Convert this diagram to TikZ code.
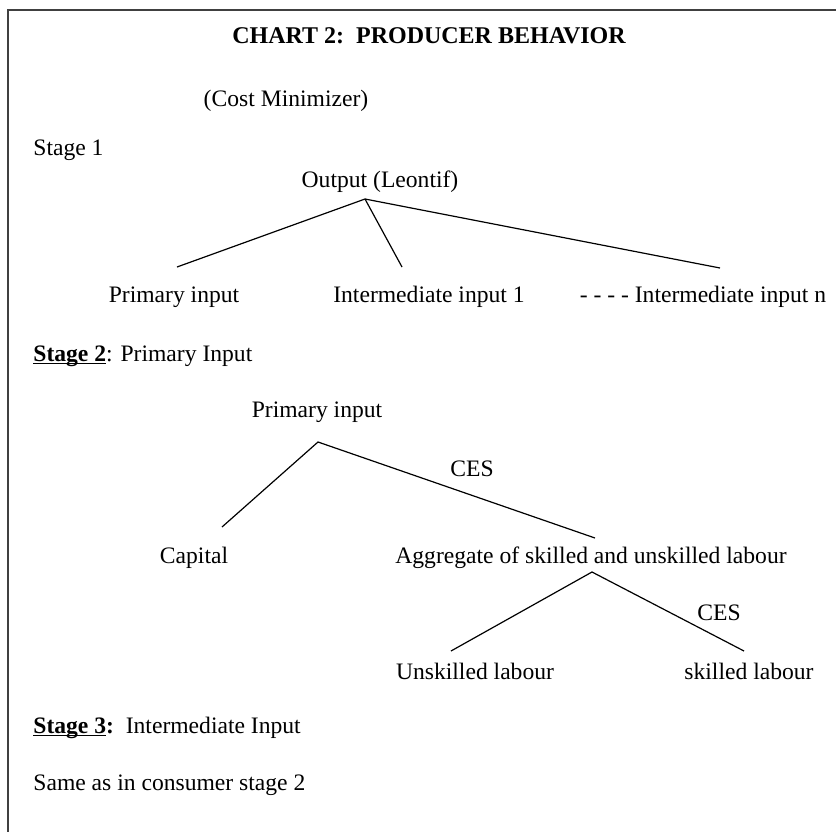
\documentclass[tikz,border=0pt]{standalone}
\usepackage{fontspec}
\setmainfont{Liberation Serif}
\usetikzlibrary{positioning}
\newcommand{\stageul}[1]{\vtop{\hbox{#1}\kern-1.6pt\hrule height 0.6pt}}
\tikzset{plaintext/.style={inner sep=0pt, anchor=base, font=\fontsize{11.8}{14}\selectfont},titletext/.style={inner sep=0pt, anchor=base, font=\fontsize{12}{14}\selectfont\bfseries}}
\begin{document}
\begin{tikzpicture}[
        x=0.5pt, y=-0.5pt,
        branch/.style={draw=black, line width=0.6pt},
        leftline/.style={plaintext, anchor=base west},
        frameline/.style={draw=black!75, line width=1pt}
    ]
        \useasboundingbox (0,0) rectangle (836,831);
        % Frame
        \draw[frameline] (8,840) -- (8,10) -- (845,10);
        % Heading
        \node[titletext] (title) at (429,43) {CHART 2:\ \ PRODUCER BEHAVIOR};
        \node[plaintext] (costmin) at (286,106) {(Cost Minimizer)};
        % Stage 1
        \node[leftline] (stageone) at (33,155) {Stage 1};
        \node[plaintext] (output) at (380,187) {Output (Leontif)};
        \coordinate (outapex) at (365,199);
        \coordinate (primend) at (177,267);
        \coordinate (interend) at (402,267);
        \coordinate (internend) at (720,268);
        \node[plaintext] (primary) at (174,302) {Primary input};
        \node[plaintext] (interone) at (429,302) {Intermediate input 1};
        \node[plaintext] (intern) at (703,302) {- - - - Intermediate input n};
        \draw[branch] (primend) -- (outapex) -- (internend);
        \draw[branch] (outapex) -- (interend);
        % Stage 2
        \node[leftline] (stagetwo) at (33,361) {\stageul{\textbf{Stage 2}}: Primary Input};
        \node[plaintext] (primtop) at (317,417) {Primary input};
        \coordinate (primapex) at (318,442);
        \coordinate (capend) at (222,527);
        \coordinate (aggend) at (595,538);
        \node[plaintext] (cesone) at (472,476) {CES};
        \node[plaintext] (capital) at (194,563) {Capital};
        \node[plaintext] (aggregate) at (591,563) {Aggregate of skilled and unskilled labour};
        \draw[branch] (capend) -- (primapex) -- (aggend);
        \coordinate (aggapex) at (592,572);
        \coordinate (unskend) at (451,651);
        \coordinate (skend) at (744,651);
        \node[plaintext] (cestwo) at (719,620) {CES};
        \node[plaintext] (unskilled) at (475,679) {Unskilled labour};
        \node[plaintext] (skilled) at (749,679) {skilled labour};
        \draw[branch] (unskend) -- (aggapex) -- (skend);
        % Stage 3
        \node[leftline] (stagethree) at (33,733) {\stageul{\textbf{Stage 3}}\textbf{:}\ \ Intermediate Input};
        \node[leftline] (same) at (33,790) {Same as in consumer stage 2};
    \end{tikzpicture}
\end{document}
